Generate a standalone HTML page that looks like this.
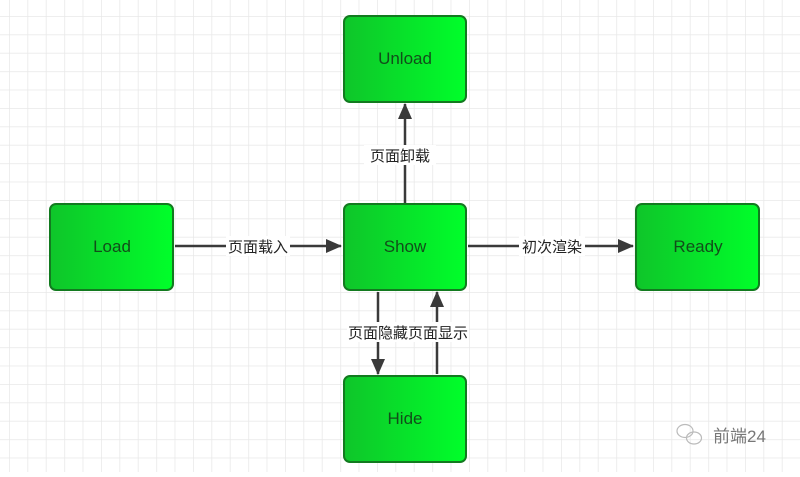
<!DOCTYPE html>
<html><head><meta charset="utf-8"><style>
body{margin:0;width:800px;height:472px;overflow:hidden;background:#fff;}
</style></head><body>
<svg width="800" height="472" xmlns="http://www.w3.org/2000/svg">
<defs>
<pattern id="g" x="9" y="16" width="18.4" height="18.4" patternUnits="userSpaceOnUse">
<path d="M0 0H18.4M0 0V18.4" stroke="#e8e8e8" stroke-width="1.5" fill="none"/>
</pattern>
<linearGradient id="gr" x1="0" x2="1" y1="0" y2="0"><stop offset="0" stop-color="#0fc52a"/><stop offset="1" stop-color="#00ff2a"/></linearGradient>
<marker id="a" markerWidth="16" markerHeight="14" refX="15" refY="7" orient="auto" markerUnits="userSpaceOnUse"><path d="M0 0L16 7L0 14Z" fill="#3a3a3a"/></marker>
</defs>
<rect width="800" height="472" fill="url(#g)"/>
<g stroke="#3a3a3a" stroke-width="2.5" fill="none">
<path d="M405 203V104" marker-end="url(#a)"/>
<path d="M175 246H341" marker-end="url(#a)"/>
<path d="M468 246H633" marker-end="url(#a)"/>
<path d="M378 292V374" marker-end="url(#a)"/>
<path d="M437 374V292" marker-end="url(#a)"/>
</g>
<g fill="url(#gr)" stroke="#127a1f" stroke-width="2">
<rect x="344" y="16" width="122" height="86" rx="6"/>
<rect x="50" y="204" width="123" height="86" rx="6"/>
<rect x="344" y="204" width="122" height="86" rx="6"/>
<rect x="636" y="204" width="123" height="86" rx="6"/>
<rect x="344" y="376" width="122" height="86" rx="6"/>
</g>
<g font-family="'Liberation Sans',sans-serif" font-size="17" fill="#124d1a" text-anchor="middle">
<text x="405" y="64">Unload</text>
<text x="112" y="252">Load</text>
<text x="405" y="252">Show</text>
<text x="698" y="252">Ready</text>
<text x="405" y="424">Hide</text>
</g>
<g font-family="'Liberation Sans','Noto Sans CJK SC',sans-serif" font-size="15" fill="#222" text-anchor="middle">
<rect x="364" y="145" width="72" height="20" fill="#fff"/>
<text x="400" y="161">页面卸载</text>
<rect x="226" y="236" width="64" height="20" fill="#fff"/>
<text x="258" y="252">页面载入</text>
<rect x="519" y="236" width="66" height="20" fill="#fff"/>
<text x="552" y="252">初次渲染</text>
<rect x="347" y="322" width="122" height="20" fill="#fff"/>
<text x="408" y="338">页面隐藏页面显示</text>
</g>
<g fill="none" stroke="#bbb" stroke-width="1.2">
<ellipse cx="685" cy="431" rx="8" ry="6.5"/>
<ellipse cx="694" cy="438" rx="7.5" ry="6"/>
</g>
<text x="713" y="442" font-family="'Liberation Sans','Noto Sans CJK SC',sans-serif" font-size="17" fill="#777">前端24</text>
</svg>
</body></html>
